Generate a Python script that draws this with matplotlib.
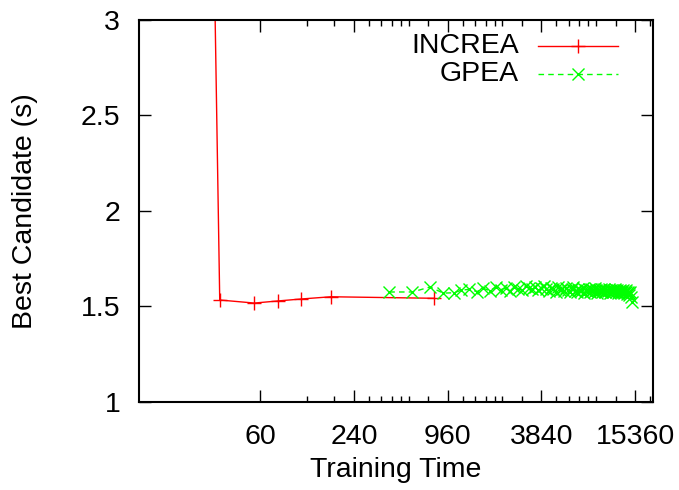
import matplotlib
matplotlib.use("Agg")
import matplotlib.pyplot as plt
from matplotlib.lines import Line2D
from matplotlib.ticker import NullFormatter, NullLocator

plt.rcParams['font.family'] = ['Liberation Sans', 'DejaVu Sans']

# ---- data ----
increa_x = [30, 33, 55, 78, 109, 171, 787]
increa_y = [3.6, 1.534, 1.518, 1.529, 1.539, 1.551, 1.543]

gpea_x = [405, 570, 740, 900, 1055, 1170, 1320, 1480, 1630, 1790,
          1950, 2100, 2260, 2410, 2570, 2720, 2880, 3040, 3190, 3350,
          3500, 3660, 3810, 3970, 4130, 4280, 4440, 4590, 4750, 4900,
          5060, 5220, 5370, 5530, 5680, 5840, 6000, 6150, 6310, 6460,
          6620, 6780, 6930, 7090, 7240, 7400, 7560, 7710, 7870, 8020,
          8180, 8340, 8490, 8650, 8800, 8960, 9120, 9270, 9430, 9580,
          9740, 9900, 10050, 10210, 10360, 10520, 10680, 10830, 10990, 11140,
          11300, 11460, 11610, 11770, 11920, 12080, 12240, 12390, 12550, 12700,
          12860, 13020, 13170, 13330, 13480, 13640, 13800, 13950, 14110, 14260,
          14420, 14580]
gpea_y = [1.576, 1.576, 1.602, 1.570, 1.572, 1.585, 1.590, 1.578, 1.595, 1.583,
          1.600, 1.588, 1.596, 1.580, 1.604, 1.592, 1.586, 1.606, 1.598, 1.590,
          1.602, 1.584, 1.596, 1.608, 1.590, 1.582, 1.598, 1.594, 1.578, 1.600,
          1.588, 1.592, 1.580, 1.596, 1.586, 1.574, 1.590, 1.600, 1.582, 1.576,
          1.594, 1.586, 1.580, 1.598, 1.572, 1.588, 1.582, 1.594, 1.576, 1.590,
          1.584, 1.578, 1.596, 1.586, 1.572, 1.588, 1.580, 1.592, 1.576, 1.584,
          1.590, 1.574, 1.586, 1.580, 1.592, 1.570, 1.584, 1.578, 1.588, 1.574,
          1.582, 1.590, 1.576, 1.586, 1.570, 1.580, 1.588, 1.574, 1.582, 1.576,
          1.586, 1.570, 1.580, 1.576, 1.584, 1.566, 1.578, 1.572, 1.560, 1.574,
          1.548, 1.525]

xticks = [60, 240, 960, 3840, 15360]
xtick_labels = ["60", "240", "960", "3840", "15360"]
xminor = [120, 180, 300, 360, 420, 480, 540, 720,
          1200, 1440, 1680, 1920, 2160, 2880,
          4800, 5760, 6720, 7680, 8640, 11520, 19200]
yticks = [1, 1.5, 2, 2.5, 3]
ytick_labels = ["1", "1.5", "2", "2.5", "3"]

# ---- figure ----
W, H = 679, 490
FS = 20.5
fig = plt.figure(figsize=(W / 100, H / 100), dpi=100)
ax = fig.add_axes([139 / W, 1 - 402 / H, (653 - 139) / W, (402 - 20) / H])

red = '#ff0000'
green = '#00ff00'

ax.plot(increa_x, increa_y, color=red, lw=1.0, marker='+', ms=10, mew=1.0)
ax.plot(gpea_x, gpea_y, color=green, lw=1.0, ls=(0, (4, 3)), marker='x',
        ms=9, mew=1.0)

ax.set_xscale('log', base=2)
ax.set_xlim(10, 20000)
ax.set_ylim(1, 3)

ax.set_xticks(xticks)
ax.set_xticklabels(xtick_labels)
ax.set_xticks(xminor, minor=True)
ax.xaxis.set_minor_formatter(NullFormatter())
ax.set_yticks(yticks)
ax.set_yticklabels(ytick_labels)
ax.yaxis.set_minor_locator(NullLocator())

ax.tick_params(axis='both', which='major', direction='in', length=8.5, width=1.0,
               labelsize=FS, top=True, right=True)
ax.tick_params(axis='x', which='major', pad=16)
ax.tick_params(axis='y', which='major', pad=13.5)
ax.tick_params(axis='x', which='minor', direction='in', length=4.3, width=1.0,
               top=True)

for s in ax.spines.values():
    s.set_linewidth(1.5)

ax.set_xlabel('Training Time', fontsize=FS, va='center')
ax.xaxis.set_label_coords(0.5, (402 - 470) / (402 - 20))
ax.set_ylabel('Best Candidate (s)', fontsize=FS, va='center')
ax.yaxis.set_label_coords((25 - 139) / (653 - 139), 0.5)

# ---- gnuplot-style key ----
tr = fig.transFigure
def px(x, y):
    return x / W, 1 - y / H

for label, yk, col, ls, mk, ms in [('INCREA', 46, red, '-', '+', 10),
                                   ('GPEA', 74, green, (0, (4, 3)), 'x', 9)]:
    x0, y0 = px(519, yk)
    fig.text(x0, y0, label, ha='right', va='center', fontsize=FS)
    xa, ya = px(538, yk)
    xb, _ = px(618, yk)
    xm, _ = px(578, yk)
    fig.add_artist(Line2D([xa, xb], [ya, ya], transform=tr, color=col, lw=1.0, ls=ls))
    fig.add_artist(Line2D([xm], [ya], transform=tr, color=col, marker=mk, ms=ms,
                          mew=1.0, ls='none'))

fig.savefig('out.png', dpi=100)
